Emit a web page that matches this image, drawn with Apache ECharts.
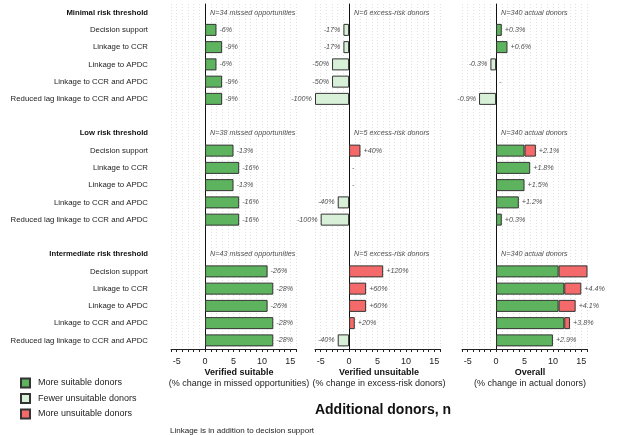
<!DOCTYPE html>
<html>
<head>
<meta charset="utf-8">
<script src="https://cdn.jsdelivr.net/npm/echarts@6/dist/echarts.min.js"></script>
<style>
html,body{margin:0;padding:0;background:#fff;}
#c{width:619px;height:435px;}
</style>
</head>
<body>
<div id="c"></div>
<script>
// ---------- data ----------
const groups = ['Minimal risk threshold', 'Low risk threshold', 'Intermediate risk threshold'];
const strategies = ['Decision support', 'Linkage to CCR', 'Linkage to APDC', 'Linkage to CCR and APDC', 'Reduced lag linkage to CCR and APDC'];
const xTicks = [-5, 0, 5, 10, 15];

// Panel 1: verified suitable (additional donors)
const suitableMore = [[2, 3, 2, 3, 3], [5, 6, 5, 6, 6], [11, 12, 11, 12, 12]];
const pctSuitable = [['-6%', '-9%', '-6%', '-9%', '-9%'], ['-13%', '-16%', '-13%', '-16%', '-16%'], ['-26%', '-28%', '-26%', '-28%', '-28%']];
const noteSuitable = ['N=34 missed opportunities', 'N=38 missed opportunities', 'N=43 missed opportunities'];

// Panel 2: verified unsuitable
const unsuitFewer = [[-1, -1, -3, -3, -6], [0, 0, 0, -2, -5], [0, 0, 0, 0, -2]];
const unsuitMore = [[0, 0, 0, 0, 0], [2, 0, 0, 0, 0], [6, 3, 3, 1, 0]];
const pctUnsuitable = [['-17%', '-17%', '-50%', '-50%', '-100%'], ['+40%', '-', '-', '-40%', '-100%'], ['+120%', '+60%', '+60%', '+20%', '-40%']];
const noteUnsuitable = ['N=6 excess-risk donors', 'N=5 excess-risk donors', 'N=5 excess-risk donors'];

// Panel 3: overall
const overallSuitable = [[1, 2, 0, 0, 0], [5, 6, 5, 4, 1], [11, 12, 11, 12, 10]];
const overallFewer = [[0, 0, -1, 0, -3], [0, 0, 0, 0, 0], [0, 0, 0, 0, 0]];
const overallMore = [[0, 0, 0, 0, 0], [2, 0, 0, 0, 0], [6, 3, 3, 1, 0]];
const pctOverall = [['+0.3%', '+0.6%', '-0.3%', '-', '-0.9%'], ['+2.1%', '+1.8%', '+1.5%', '+1.2%', '+0.3%'], ['+5.0%', '+4.4%', '+4.1%', '+3.8%', '+2.9%']];
const noteOverall = ['N=340 actual donors', 'N=340 actual donors', 'N=340 actual donors'];

const legendNames = ['More suitable donors', 'Fewer unsuitable donors', 'More unsuitable donors'];
const axisTitles = [['Verified suitable', '(% change in missed opportunities)'], ['Verified unsuitable', '(% change in excess-risk donors)'], ['Overall', '(% change in actual donors)']];
const mainTitle = 'Additional donors, n';
const footnote = 'Linkage is in addition to decision support';

// ---------- build ----------
const FONT = 'Liberation Sans, Arial, Helvetica, sans-serif';
const GREEN = '#5eb45e', LIGHT = '#d8efd8', RED = '#f46a6a', BORDER = '#333';
const rows = []; // {label, header}
groups.forEach((g, gi) => {
  rows.push({label: g, header: true});
  strategies.forEach(s => rows.push({label: s, header: false}));
  if (gi < groups.length - 1) rows.push({label: '', header: false});
});
const rowIds = rows.map((r, i) => 'r' + i);
const rowIndex = (g, s) => g * 7 + 1 + s;
const headerIndex = g => g * 7;

function toRowArray(arr) {
  const out = rows.map(() => null);
  arr.forEach((vals, g) => vals.forEach((v, s) => { if (v !== 0) out[rowIndex(g, s)] = v; }));
  return out;
}
function labelPoints(totals, texts) {
  const pts = [];
  totals.forEach((vals, g) => vals.forEach((v, s) => {
    pts.push({value: [v, rowIndex(g, s)], txt: texts[g][s], label: {position: v < 0 ? 'left' : 'right'}});
  }));
  return pts;
}
function notePoints(notes) {
  return notes.map((n, g) => ({value: [0, headerIndex(g)], txt: n, label: {position: 'right', distance: 5}}));
}
const sum = (...arrs) => arrs[0].map((vals, g) => vals.map((v, s) => arrs.reduce((a, A) => a + A[g][s], 0)));

const gridLefts = [171, 315, 462];
const gridW = 125;
const grids = gridLefts.map(l => ({left: l, top: 4, width: gridW, height: 345}));

const xAxes = gridLefts.map((l, i) => ({
  type: 'value', gridIndex: i, min: -6, max: 16, interval: 1,
  axisLine: {show: true, onZero: false, lineStyle: {color: '#222', width: 1}},
  axisTick: {show: true, length: 3, lineStyle: {color: '#222'}},
  axisLabel: {fontSize: 9, color: '#222', margin: 8, fontFamily: FONT,
    formatter: v => xTicks.indexOf(v) >= 0 ? String(v) : ''},
  splitLine: {show: true, lineStyle: {type: [1, 2], color: '#e2e2e2', width: 1}}
}));
const yAxes = gridLefts.map((l, i) => ({
  type: 'category', gridIndex: i, data: rowIds, inverse: true,
  axisLine: {show: true, onZero: true, lineStyle: {color: '#111', width: 1}},
  axisTick: {show: false}, axisLabel: {show: false}, splitLine: {show: false}
}));
yAxes.push({
  type: 'category', gridIndex: 0, data: rowIds, inverse: true, position: 'left',
  axisLine: {show: false, onZero: false}, axisTick: {show: false}, splitLine: {show: false},
  axisLabel: {margin: 23, fontFamily: FONT,
    formatter: (v) => { const r = rows[+v.slice(1)]; if (!r.label) return ''; return r.header ? '{h|' + r.label + '}' : '{n|' + r.label + '}'; },
    rich: {h: {fontWeight: 'bold', fontSize: 7.7, color: '#111', fontFamily: FONT}, n: {fontSize: 7.8, color: '#222', fontFamily: FONT}}}
});

const barBase = {type: 'bar', barWidth: 12, silent: true};
const st = c => ({color: c, borderColor: BORDER, borderWidth: 1});
const labelStyle = {show: true, fontSize: 7.2, fontStyle: 'italic', color: '#222', distance: 3, fontFamily: FONT, formatter: p => p.data.txt};
const scatterBase = {type: 'scatter', symbolSize: 0, silent: true, z: 5, label: labelStyle};

const series = [
  Object.assign({}, barBase, {name: legendNames[0], xAxisIndex: 0, yAxisIndex: 0, data: toRowArray(suitableMore), itemStyle: st(GREEN)}),
  Object.assign({}, barBase, {name: legendNames[1], xAxisIndex: 1, yAxisIndex: 1, stack: 'p2', data: toRowArray(unsuitFewer), itemStyle: st(LIGHT)}),
  Object.assign({}, barBase, {name: legendNames[2], xAxisIndex: 1, yAxisIndex: 1, stack: 'p2', data: toRowArray(unsuitMore), itemStyle: st(RED)}),
  Object.assign({}, barBase, {name: legendNames[0], xAxisIndex: 2, yAxisIndex: 2, stack: 'p3', data: toRowArray(overallSuitable), itemStyle: st(GREEN)}),
  Object.assign({}, barBase, {name: legendNames[2], xAxisIndex: 2, yAxisIndex: 2, stack: 'p3', data: toRowArray(overallMore), itemStyle: st(RED)}),
  Object.assign({}, barBase, {name: legendNames[1], xAxisIndex: 2, yAxisIndex: 2, stack: 'p3', data: toRowArray(overallFewer), itemStyle: st(LIGHT)}),
  Object.assign({}, scatterBase, {name: 'lab1', xAxisIndex: 0, yAxisIndex: 0, data: labelPoints(suitableMore, pctSuitable).concat(notePoints(noteSuitable))}),
  Object.assign({}, scatterBase, {name: 'lab2', xAxisIndex: 1, yAxisIndex: 1, data: labelPoints(sum(unsuitFewer, unsuitMore), pctUnsuitable).concat(notePoints(noteUnsuitable))}),
  Object.assign({}, scatterBase, {name: 'lab3', xAxisIndex: 2, yAxisIndex: 2, data: labelPoints(sum(overallSuitable, overallMore, overallFewer), pctOverall).concat(notePoints(noteOverall))})
];

const titleCenters = [239, 379, 530];
const graphic = [];
axisTitles.forEach((t, i) => {
  graphic.push({type: 'text', x: titleCenters[i], y: 373, style: {text: t[0], font: 'bold 9px ' + FONT, fill: '#111', textAlign: 'center', textVerticalAlign: 'middle'}});
  graphic.push({type: 'text', x: titleCenters[i], y: 384, style: {text: t[1], font: '9px ' + FONT, fill: '#222', textAlign: 'center', textVerticalAlign: 'middle'}});
});
graphic.push({type: 'text', x: 383, y: 410, style: {text: mainTitle, font: 'bold 14px ' + FONT, fill: '#111', textAlign: 'center', textVerticalAlign: 'middle'}});
graphic.push({type: 'text', x: 170, y: 431, style: {text: footnote, font: '8px ' + FONT, fill: '#222', textAlign: 'left', textVerticalAlign: 'middle'}});

const chart = echarts.init(document.getElementById('c'), null, {renderer: 'canvas'});
chart.setOption({
  animation: false,
  backgroundColor: '#fff',
  textStyle: {fontFamily: FONT},
  grid: grids, xAxis: xAxes, yAxis: yAxes, series: series, graphic: graphic,
  legend: {data: legendNames, orient: 'vertical', left: 20, top: 377.5, padding: 0, itemWidth: 9, itemHeight: 9, itemGap: 4.5,
    icon: 'rect', selectedMode: false,
    textStyle: {fontSize: 9, color: '#222', lineHeight: 9, padding: [0, 0, 0, 3], fontFamily: FONT}}
});
</script>
</body>
</html>
